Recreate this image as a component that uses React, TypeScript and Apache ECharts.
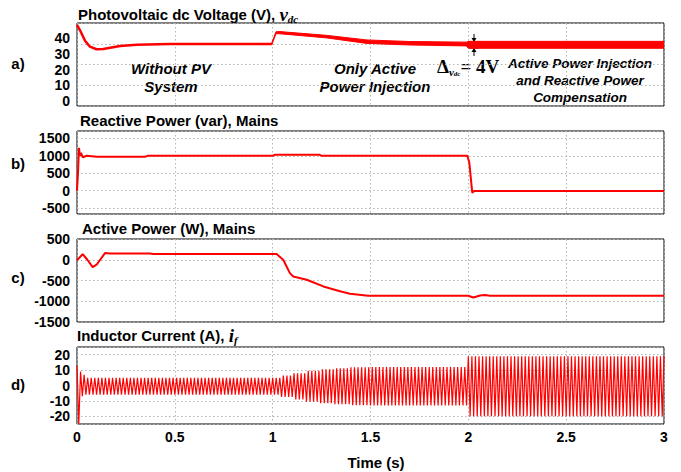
import React, { useEffect, useRef } from "react";
import * as echarts from "echarts";

const SANS = "'Liberation Sans', Arial, Helvetica, sans-serif";
const SERIF = "'Liberation Serif', 'Times New Roman', serif";
const RED = "#ff0000";

// ---------- shared time axis ----------
const TIME_MIN = 0;
const TIME_MAX = 3;
const TIME_STEP = 0.5;

// ---------- a) Photovoltaic dc voltage (V) ----------
const vdcTime = [0, 0.015, 0.041, 0.066, 0.1, 0.134, 0.22, 0.305, 0.475, 0.75, 0.995];
const vdcValue = [48.4, 45.2, 38.4, 34.6, 33.0, 33.1, 35.0, 35.9, 36.3, 36.3, 36.3];
// ripple band (upper / lower edge) after the PV system is connected
const vdcBandTime = [0.995, 1.017, 1.037, 1.276, 1.48, 1.7, 1.99, 2.0, 2.5, 3.0];
const vdcBandUpper = [36.9, 44.1, 44.2, 41.8, 38.9, 37.9, 37.5, 38.0, 38.0, 38.0];
const vdcBandLower = [35.7, 42.9, 42.8, 40.2, 36.7, 35.7, 35.1, 33.6, 33.6, 33.6];
const vdcLabelRange = [-3.05, 49.65];
const vdcGridRange = [0, 40];

// ---------- b) Reactive power (var), mains ----------
const qTime = [0, 0.005, 0.01, 0.015, 0.02, 0.03, 0.05, 0.1, 0.2, 0.35, 0.36, 1.0, 1.01, 1.24, 1.25, 1.995, 2.005, 2.012, 2.02, 2.03, 2.05, 3.0];
const qValue = [0, 500, 1230, 1000, 1080, 960, 1000, 975, 975, 975, 1000, 1000, 1030, 1030, 1000, 1000, 800, 400, -60, -10, -10, -10];
const qRange = [-672, 1713];

// ---------- c) Active power (W), mains ----------
const pTime = [0, 0.029, 0.053, 0.08, 0.1, 0.143, 0.169, 0.373, 0.39, 1.02, 1.054, 1.088, 1.105, 1.174, 1.259, 1.344, 1.395, 1.489, 2.0, 2.025, 2.06, 2.085, 2.11, 3.0];
const pValue = [-16, 137, 0, -177, -120, 160, 150, 150, 137, 137, 0, -322, -402, -482, -643, -760, -819, -867, -867, -908, -860, -851, -867, -867];
const pRange = [-1500, 500];
const pStep = 500;

// ---------- d) Inductor current (A) ----------
const ifCyclesPerSecond = 55; // counted on the picture
const ifEnvTime = [0, 0.01, 0.02, 0.04, 1.04, 1.1, 1.17, 1.24, 1.31, 1.4, 1.5, 2.0, 3.0];
const ifUpper = [13, 9, 7, 5, 6.5, 8, 9.5, 10.5, 11.2, 11.8, 12, 19, 19];
const ifLower = [-25, -9, -7, -6, -7.5, -9, -10.5, -11.5, -12.2, -12.8, -13, -20, -20];
const ifRange = [-25, 25];

const pairs = (xs: number[], ys: number[]) => xs.map((x, i) => [x, ys[i]]);

function currentPeaks(): number[][] {
  const half = 1 / (2 * ifCyclesPerSecond);
  const n = Math.floor((TIME_MAX - TIME_MIN) / half + 1e-9);
  const out: number[][] = [];
  let seg = 0;
  for (let k = 0; k <= n; k++) {
    const t = TIME_MIN + k * half;
    while (seg + 1 < ifEnvTime.length && ifEnvTime[seg + 1] <= t) seg++;
    out.push([t, k % 2 === 0 ? ifUpper[seg] : ifLower[seg]]);
  }
  return out;
}

const splitLine = {
  show: true,
  lineStyle: { type: [1.5, 2.5] as any, color: "#b4b4b4", width: 1 },
};
const plain = (v: number) => String(Math.round(v * 1000) / 1000);
const yLabel = {
  fontSize: 14,
  fontWeight: "bold" as const,
  color: "#000",
  fontFamily: SANS,
  margin: 7,
  formatter: plain,
};

const titleRich = {
  n: { fontFamily: SANS, fontWeight: "bold", fontSize: 15, color: "#000", lineHeight: 20 },
  v: { fontFamily: SERIF, fontStyle: "italic", fontWeight: "bold", fontSize: 19, color: "#000", lineHeight: 20 },
  s: { fontFamily: SERIF, fontStyle: "italic", fontWeight: "bold", fontSize: 11, color: "#000", lineHeight: 11, verticalAlign: "bottom" },
};

function buildOption(): any {
  const grids = [
    { top: 23, height: 83 },
    { top: 131, height: 83 },
    { top: 239, height: 83 },
    { top: 347, height: 77 },
  ].map((g) => ({
    ...g,
    left: 77,
    right: 17,
    show: true,
    borderColor: "#000",
    borderWidth: 1,
    backgroundColor: "transparent",
  }));

  const xAxes = grids.map((_, i) => ({
    type: "value",
    gridIndex: i,
    min: TIME_MIN,
    max: TIME_MAX,
    interval: TIME_STEP,
    axisLine: { show: false },
    axisTick: { show: false },
    splitLine,
    axisLabel:
      i === 3
        ? { show: true, fontSize: 14, fontWeight: "bold", color: "#000", fontFamily: SANS, margin: 6, formatter: plain }
        : { show: false },
    name: i === 3 ? "Time (s)" : "",
    nameLocation: "middle",
    nameGap: 31,
    nameTextStyle: { fontSize: 15, fontWeight: "bold", color: "#000", fontFamily: SANS, padding: [0, 0, 0, 11] },
  }));

  const yAxes = [
    {
      type: "value", gridIndex: 0, min: vdcLabelRange[0], max: vdcLabelRange[1], splitNumber: 5,
      axisLine: { show: false }, axisTick: { show: false }, splitLine: { show: false },
      axisLabel: { ...yLabel, showMinLabel: false, showMaxLabel: false },
    },
    {
      type: "value", gridIndex: 0, min: vdcGridRange[0], max: vdcGridRange[1], interval: 10,
      position: "left",
      axisLine: { show: false }, axisTick: { show: false }, axisLabel: { show: false }, splitLine,
    },
    {
      type: "value", gridIndex: 1, min: qRange[0], max: qRange[1], splitNumber: 5,
      axisLine: { show: false }, axisTick: { show: false }, splitLine,
      axisLabel: { ...yLabel, showMinLabel: false, showMaxLabel: false },
    },
    {
      type: "value", gridIndex: 2, min: pRange[0], max: pRange[1], interval: pStep,
      axisLine: { show: false }, axisTick: { show: false }, splitLine,
      axisLabel: { ...yLabel },
    },
    {
      type: "value", gridIndex: 3, min: ifRange[0], max: ifRange[1], splitNumber: 5,
      axisLine: { show: false }, axisTick: { show: false }, splitLine,
      axisLabel: { ...yLabel, showMinLabel: false, showMaxLabel: false },
    },
  ];

  const lineBase = { type: "line", showSymbol: false, symbol: "none", silent: true };

  const series = [
    { ...lineBase, name: "vdc", xAxisIndex: 0, yAxisIndex: 0, data: pairs(vdcTime, vdcValue), lineStyle: { color: RED, width: 2.5 } },
    {
      type: "custom", name: "vdcRipple", xAxisIndex: 0, yAxisIndex: 0, silent: true, clip: true,
      data: vdcBandTime.map((t, i) => [t, vdcBandUpper[i], vdcBandLower[i]]),
      encode: { x: 0, y: [1, 2] },
      renderItem: (params: any, api: any) => {
        if (params.dataIndex !== 0) return null;
        const top = vdcBandTime.map((t, i) => api.coord([t, vdcBandUpper[i]]));
        const bottom = vdcBandTime.map((t, i) => api.coord([t, vdcBandLower[i]])).reverse();
        return {
          type: "polygon",
          shape: { points: top.concat(bottom) },
          style: { fill: RED, stroke: RED, lineWidth: 1 },
        };
      },
    },
    { ...lineBase, name: "Q", xAxisIndex: 1, yAxisIndex: 2, data: pairs(qTime, qValue), lineStyle: { color: RED, width: 2 } },
    { ...lineBase, name: "P", xAxisIndex: 2, yAxisIndex: 3, data: pairs(pTime, pValue), lineStyle: { color: RED, width: 2 } },
    { ...lineBase, name: "if", xAxisIndex: 3, yAxisIndex: 4, data: currentPeaks(), lineStyle: { color: RED, width: 1.2 } },
  ];

  const titles = [
    { left: 78, top: 4, text: "{n|Photovoltaic dc Voltage (V), }{v|v}{s|dc}" },
    { left: 80, top: 110, text: "{n|Reactive Power (var), Mains}" },
    { left: 82, top: 218, text: "{n|Active Power (W), Mains}" },
    { left: 77, top: 325, text: "{n|Inductor Current (A), }{v|i}{s|f}" },
  ].map((t) => ({ ...t, padding: 0, textStyle: { rich: titleRich } }));

  const letter = (txt: string, y: number) => ({
    type: "text", x: 18, y,
    style: { text: txt, fill: "#000", fontFamily: SANS, fontWeight: "bold", fontSize: 15, align: "center", verticalAlign: "middle" },
  });
  const note = (txt: string, x: number, y: number, size: number, lh: number) => ({
    type: "text", x, y,
    style: {
      text: txt, fill: "#000", fontFamily: SANS, fontWeight: "bold", fontStyle: "italic",
      fontSize: size, lineHeight: lh, align: "center", verticalAlign: "middle",
    },
  });

  const ax = 474;
  const graphic = [
    letter("a)", 63),
    letter("b)", 163),
    letter("c)", 277),
    letter("d)", 384),
    note("Without PV\nSystem", 171, 77, 15, 18),
    note("Only Active\nPower Injection", 375, 77, 15, 18),
    note("Active Power Injection\nand Reactive Power\nCompensation", 580, 80, 13.5, 17),
    {
      type: "text", x: 437, y: 66,
      style: {
        text: "{d|Δ}{sv|v}{sd|dc}{e|= 4V}",
        align: "left", verticalAlign: "middle",
        rich: {
          d: { fontFamily: SERIF, fontWeight: "bold", fontSize: 19, lineHeight: 22, fill: "#000" },
          sv: { fontFamily: SERIF, fontWeight: "bold", fontStyle: "italic", fontSize: 11, lineHeight: 10, verticalAlign: "bottom", fill: "#000" },
          sd: { fontFamily: SERIF, fontWeight: "bold", fontStyle: "italic", fontSize: 7, lineHeight: 8, verticalAlign: "bottom", fill: "#000" },
          e: { fontFamily: SERIF, fontWeight: "bold", fontSize: 19, lineHeight: 22, fill: "#000" },
        },
      },
    },
    { type: "line", shape: { x1: ax, y1: 34, x2: ax, y2: 41 }, style: { stroke: "#000", lineWidth: 1 } },
    { type: "polygon", shape: { points: [[ax - 2.5, 38], [ax + 2.5, 38], [ax, 42]] }, style: { fill: "#000" } },
    { type: "line", shape: { x1: ax - 5, y1: 42, x2: ax + 5, y2: 42 }, style: { stroke: "#000", lineWidth: 1 } },
    { type: "line", shape: { x1: ax, y1: 49, x2: ax, y2: 56 }, style: { stroke: "#000", lineWidth: 1 } },
    { type: "polygon", shape: { points: [[ax - 2.5, 52], [ax + 2.5, 52], [ax, 48]] }, style: { fill: "#000" } },
    { type: "line", shape: { x1: ax - 5, y1: 48, x2: ax + 5, y2: 48 }, style: { stroke: "#000", lineWidth: 1 } },
  ];

  return {
    animation: false,
    backgroundColor: "#ffffff",
    title: titles,
    grid: grids,
    xAxis: xAxes,
    yAxis: yAxes,
    series,
    graphic,
  };
}

export default function App() {
  const ref = useRef<HTMLDivElement>(null);
  useEffect(() => {
    const el = ref.current;
    if (!el) return;
    const chart = echarts.init(el, undefined, { renderer: "svg" });
    chart.setOption(buildOption());
    return () => chart.dispose();
  }, []);
  return (
    <div
      ref={ref}
      style={{ position: "fixed", left: 0, top: 0, width: 681, height: 472, background: "#fff" }}
    />
  );
}
